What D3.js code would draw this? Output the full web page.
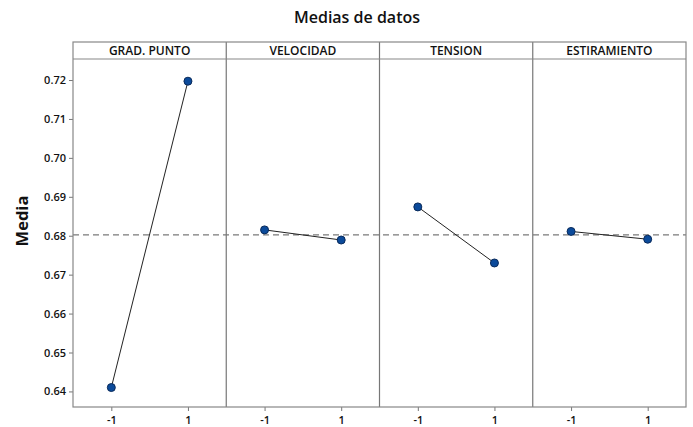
<!DOCTYPE html>
<html>
<head>
<meta charset="utf-8">
<script src="https://cdn.jsdelivr.net/npm/d3@7"></script>
<style>
  body { margin: 0; background: #fff; }
  svg text { font-family: "Open Sans", "Noto Sans", sans-serif; fill: #111; }
</style>
</head>
<body>
<div class="container"></div>
<script>
const factors = ['GRAD. PUNTO', 'VELOCIDAD', 'TENSION', 'ESTIRAMIENTO']
const levels = [-1, 1]
const meansLow = [0.6410, 0.6815, 0.6874, 0.6811]
const meansHigh = [0.7197, 0.6789, 0.6730, 0.6791]
const grandMean = 0.6802
const yTicks = [0.64, 0.65, 0.66, 0.67, 0.68, 0.69, 0.70, 0.71, 0.72]

const width = 693
const height = 427
const frameLeft = 73, frameRight = 686, frameTop = 42, stripH = 17, frameBottom = 407

const svg = d3.select('.container').append('svg')
  .attr('width', width).attr('height', height)

svg.append('text')
  .attr('x', 357).attr('y', 23)
  .attr('text-anchor', 'middle')
  .style('font-size', '16px').style('font-weight', 600)
  .text('Medias de datos')

const plotTop = frameTop + stripH
const yScale = d3.scaleLinear().domain([0.636, 0.7254]).range([frameBottom, plotTop])

const panel = d3.scaleBand().domain(factors).range([frameLeft, frameRight])
const xScale = d3.scaleLinear().domain([-2, 2]).range([0, panel.bandwidth()])

// y axis
const yAxis = d3.axisLeft(yScale).tickValues(yTicks).tickFormat(d3.format('.2f')).tickSize(4).tickPadding(3)
const yg = svg.append('g').attr('transform', `translate(${frameLeft},0)`).call(yAxis)
yg.select('.domain').remove()
yg.selectAll('.tick line').attr('stroke', '#777')
yg.selectAll('.tick text').style('font-size', '11px').style('font-weight', 600)

svg.append('text')
  .attr('transform', `translate(28,221) rotate(-90)`)
  .attr('text-anchor', 'middle')
  .style('font-size', '16.5px').style('font-weight', 700)
  .text('Media')

// dashed grand mean
svg.append('line')
  .attr('x1', frameLeft).attr('x2', frameRight)
  .attr('y1', yScale(grandMean)).attr('y2', yScale(grandMean))
  .attr('stroke', '#7a7a7a').attr('stroke-width', 1.2)
  .attr('stroke-dasharray', '6,4')

factors.forEach((f, i) => {
  const g = svg.append('g').attr('transform', `translate(${panel(f)},0)`)
  const pts = [[levels[0], meansLow[i]], [levels[1], meansHigh[i]]]

  g.append('line')
    .attr('x1', xScale(pts[0][0])).attr('y1', yScale(pts[0][1]))
    .attr('x2', xScale(pts[1][0])).attr('y2', yScale(pts[1][1]))
    .attr('stroke', '#222').attr('stroke-width', 1)

  g.selectAll('circle').data(pts).enter().append('circle')
    .attr('cx', d => xScale(d[0])).attr('cy', d => yScale(d[1]))
    .attr('r', 4)
    .attr('fill', '#0b4a9a').attr('stroke', '#0a2a5a').attr('stroke-width', 1)

  const xAxis = d3.axisBottom(xScale).tickValues(levels).tickFormat(d => String(d)).tickSize(4).tickPadding(5)
  const xg = g.append('g').attr('transform', `translate(0,${frameBottom})`).call(xAxis)
  xg.select('.domain').remove()
  xg.selectAll('.tick line').attr('stroke', '#777')
  xg.selectAll('.tick text').style('font-size', '11px').style('font-weight', 600)

  g.append('text')
    .attr('x', panel.bandwidth() / 2).attr('y', frameTop + 13.3)
    .attr('text-anchor', 'middle')
    .style('font-size', '12px').style('font-weight', 600)
    .text(f)

  if (i > 0) {
    g.append('line')
      .attr('x1', 0).attr('x2', 0).attr('y1', frameTop).attr('y2', frameBottom)
      .attr('stroke', '#777').attr('stroke-width', 1.2)
  }
})

// frame and strip line
svg.append('rect')
  .attr('x', frameLeft).attr('y', frameTop)
  .attr('width', frameRight - frameLeft).attr('height', frameBottom - frameTop)
  .attr('fill', 'none').attr('stroke', '#888').attr('stroke-width', 1.2)
svg.append('line')
  .attr('x1', frameLeft).attr('x2', frameRight).attr('y1', plotTop).attr('y2', plotTop)
  .attr('stroke', '#888').attr('stroke-width', 1.2)
</script>
</body>
</html>
